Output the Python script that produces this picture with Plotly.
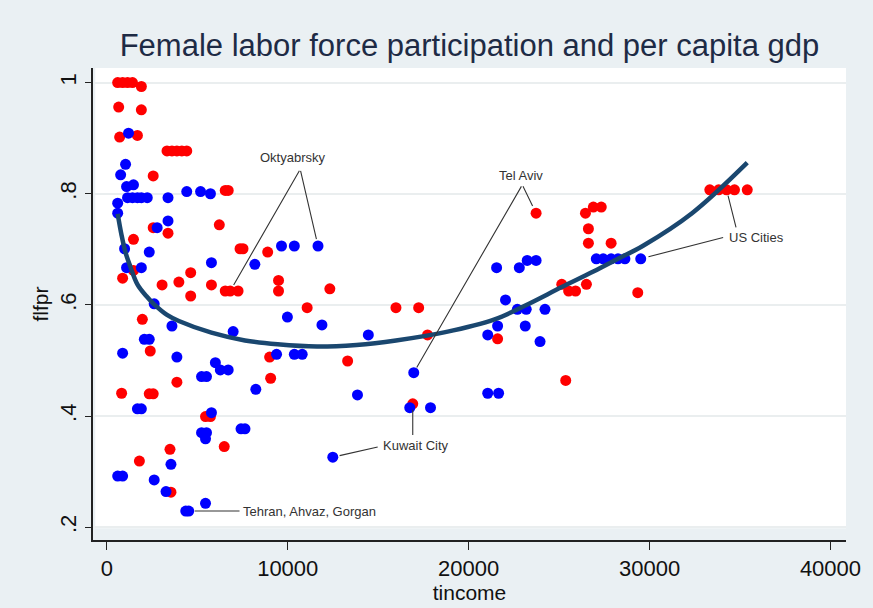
import plotly.graph_objects as go

# ---- data ----
red_x = [600, 873, 1145, 1418, 1909, 655, 1909, 709, 1691,
         3327, 3600, 3873, 4145, 4418, 2564, 6545, 6709, 2564, 3382, 6218,
         1473, 7364, 7527, 8891, 1473, 873, 4636, 3055, 3982, 5782,
         6545, 6818, 7255, 9491, 9491, 12327, 4636, 11073, 1964, 2400,
         9000, 9055, 3873, 818, 2345, 2564, 5455, 5727, 6491, 3491,
         1800, 3545, 15982, 17237, 13310, 17728, 16910, 21600, 23728, 25365,
         25146, 25528, 25910, 26510, 26456, 26892, 27330, 26620, 26620, 27875,
         29347, 33330, 33820, 34257, 34694, 35400]
red_y = [1.000, 1.000, 1.000, 1.000, 0.993, 0.956, 0.951, 0.902, 0.905,
         0.877, 0.877, 0.877, 0.877, 0.877, 0.832, 0.806, 0.806, 0.739, 0.729, 0.744,
         0.718, 0.701, 0.701, 0.695, 0.662, 0.648, 0.658, 0.636, 0.641, 0.636,
         0.625, 0.625, 0.625, 0.644, 0.625, 0.629, 0.616, 0.595, 0.574, 0.517,
         0.506, 0.468, 0.461, 0.441, 0.440, 0.440, 0.399, 0.399, 0.345, 0.340,
         0.319, 0.263, 0.595, 0.595, 0.499, 0.546, 0.422, 0.539, 0.765, 0.464,
         0.637, 0.625, 0.625, 0.637, 0.765, 0.776, 0.776, 0.737, 0.711, 0.711,
         0.622, 0.807, 0.807, 0.807, 0.807, 0.807]

blue_x = [1200, 1036, 764, 1091, 1473, 1145, 1418, 1691, 1909, 2236,
          3382, 4418, 5182, 5727, 600, 600, 2782, 3382, 982, 2345,
          9655, 10364, 11673, 5782, 8182, 1091, 1909, 2618, 9982, 11891,
          3600, 6982, 2073, 2345, 873, 3873, 9382, 10364, 10800, 6000,
          6273, 6709, 5236, 5509, 8236, 1691, 1909, 5782, 5236, 5509,
          5455, 7418, 7636, 3545, 600, 873, 2618, 3273, 5455, 4364,
          4527, 14455, 13855, 16965, 16745, 17892, 12491, 21055, 21655, 21055,
          21600, 23128, 23946, 22037, 22692, 23183, 24219, 21545, 22800, 23237,
          23728, 27056, 27438, 27875, 28257, 28638, 29511]
blue_y = [0.909, 0.853, 0.834, 0.813, 0.816, 0.793, 0.793, 0.793, 0.793, 0.793,
          0.793, 0.804, 0.804, 0.800, 0.783, 0.765, 0.739, 0.751, 0.701, 0.695,
          0.706, 0.706, 0.706, 0.676, 0.673, 0.667, 0.667, 0.602, 0.578, 0.564,
          0.562, 0.552, 0.538, 0.538, 0.513, 0.506, 0.511, 0.511, 0.511, 0.496,
          0.483, 0.483, 0.471, 0.471, 0.448, 0.413, 0.413, 0.406, 0.370, 0.370,
          0.359, 0.377, 0.377, 0.313, 0.292, 0.292, 0.285, 0.264, 0.243, 0.229,
          0.229, 0.546, 0.438, 0.478, 0.415, 0.415, 0.326, 0.441, 0.441, 0.546,
          0.562, 0.562, 0.534, 0.609, 0.592, 0.592, 0.592, 0.667, 0.667, 0.680,
          0.680, 0.683, 0.683, 0.683, 0.683, 0.683, 0.683]

# fitted curve
fit_x = [600, 818, 1036, 1255, 1691, 2182, 2618, 3327, 3982, 5782, 7636,
         9437, 11618, 13800, 15982, 18710, 21437, 23074, 25146, 26892,
         28257, 29620, 32347, 35400]
fit_y = [0.764, 0.725, 0.694, 0.673, 0.637, 0.616, 0.601, 0.582, 0.571, 0.550, 0.536,
         0.529, 0.525, 0.528, 0.536, 0.551, 0.574, 0.598, 0.632, 0.660,
         0.683, 0.706, 0.765, 0.856]

x_ticks = [0, 10000, 20000, 30000, 40000]
x_tick_labels = ["0", "10000", "20000", "30000", "40000"]
y_ticks = [0.2, 0.4, 0.6, 0.8, 1.0]
y_tick_labels = [".2", ".4", ".6", ".8", "1"]

FONT = "Liberation Sans, Arial, sans-serif"
BG = "#eaf0f3"

fig = go.Figure()
fig.add_trace(go.Scatter(x=red_x, y=red_y, mode="markers",
                         marker=dict(color="#ff0000", size=11, line=dict(width=0)),
                         showlegend=False, hoverinfo="skip"))
fig.add_trace(go.Scatter(x=blue_x, y=blue_y, mode="markers",
                         marker=dict(color="#0000ff", size=11, line=dict(width=0)),
                         showlegend=False, hoverinfo="skip"))
fig.add_trace(go.Scatter(x=fit_x, y=fit_y, mode="lines",
                         line=dict(color="#1a476f", width=4.5, shape="spline", smoothing=1.0),
                         showlegend=False, hoverinfo="skip"))

LC = "#333333"
ann = []

def leader(tx, ty, px, py, standoff=6):
    ann.append(dict(x=px, y=py, ax=tx, ay=ty, xref="x", yref="y", axref="x", ayref="y",
                    text="", showarrow=True, arrowhead=0, arrowwidth=1.1,
                    arrowcolor=LC, standoff=standoff))

def label(tx, ty, text, anchor="center"):
    ann.append(dict(x=tx, y=ty, xref="x", yref="y", text=text, showarrow=False,
                    xanchor=anchor, yanchor="middle",
                    font=dict(family=FONT, size=13, color="#333333")))

# Oktyabrsky
label(10309, 0.865, "Oktyabrsky")
leader(10691, 0.844, red_x[31], red_y[31], 7)
leader(10691, 0.844, blue_x[22], blue_y[22], 7)
# Tel Aviv
label(22910, 0.832, "Tel Aviv")
leader(22964, 0.816, red_x[58], red_y[58], 8)
leader(22964, 0.816, blue_x[63], blue_y[63], 6)
# Kuwait City
label(17074, 0.347, "Kuwait City")
leader(16910, 0.363, red_x[56], red_y[56], 6)
leader(15055, 0.345, blue_x[66], blue_y[66], 7)
# US Cities
label(35890, 0.722, "US Cities")
leader(34800, 0.737, red_x[73], red_y[73], 6)
leader(34150, 0.722, blue_x[86], blue_y[86], 8)
# Tehran
label(7418, 0.229, "Tehran, Ahvaz, Gorgan", anchor="left")
leader(7418, 0.229, blue_x[60], blue_y[60], 6)

fig.update_layout(
    width=873, height=608,
    paper_bgcolor=BG, plot_bgcolor=BG,
    margin=dict(l=93, r=17, t=68, b=55),
    font=dict(family=FONT, color="#000000"),
    title=dict(text="Female labor force participation and per capita gdp",
               x=0.5, xref="paper", xanchor="center",
               y=0.926, yref="container", yanchor="middle",
               font=dict(family=FONT, size=31, color="#1e2b45")),
    annotations=ann,
    shapes=[dict(type="rect", xref="paper", yref="paper", x0=0.003, x1=1, y0=0.025, y1=1,
                 fillcolor="#ffffff", line=dict(width=0), layer="below")],
    xaxis=dict(range=[-764, 40858], tickvals=x_ticks, ticktext=x_tick_labels,
               showgrid=False, zeroline=False, showline=True, linecolor="#222222",
               linewidth=1.5, ticks="outside", ticklen=8, tickwidth=1.2, tickcolor="#222222",
               tickfont=dict(family=FONT, size=22, color="#111111"),
               title=dict(text="tincome", standoff=0,
                          font=dict(family=FONT, size=21, color="#111111"))),
    yaxis=dict(range=[0.1769, 1.0263], tickvals=y_ticks, ticktext=y_tick_labels,
               tickangle=-90, showgrid=True, gridcolor="#eaeeef", gridwidth=1.5,
               zeroline=False, showline=True, linecolor="#222222", linewidth=1.5,
               ticks="outside", ticklen=6, tickwidth=1.2, tickcolor="#222222",
               tickfont=dict(family=FONT, size=22, color="#111111"),
               title=dict(text="flfpr", standoff=2,
                          font=dict(family=FONT, size=21, color="#111111"))),
)

fig.write_html("out.html", config={"displayModeBar": False},
               post_script="document.body.style.margin='0';document.body.style.padding='0';")
